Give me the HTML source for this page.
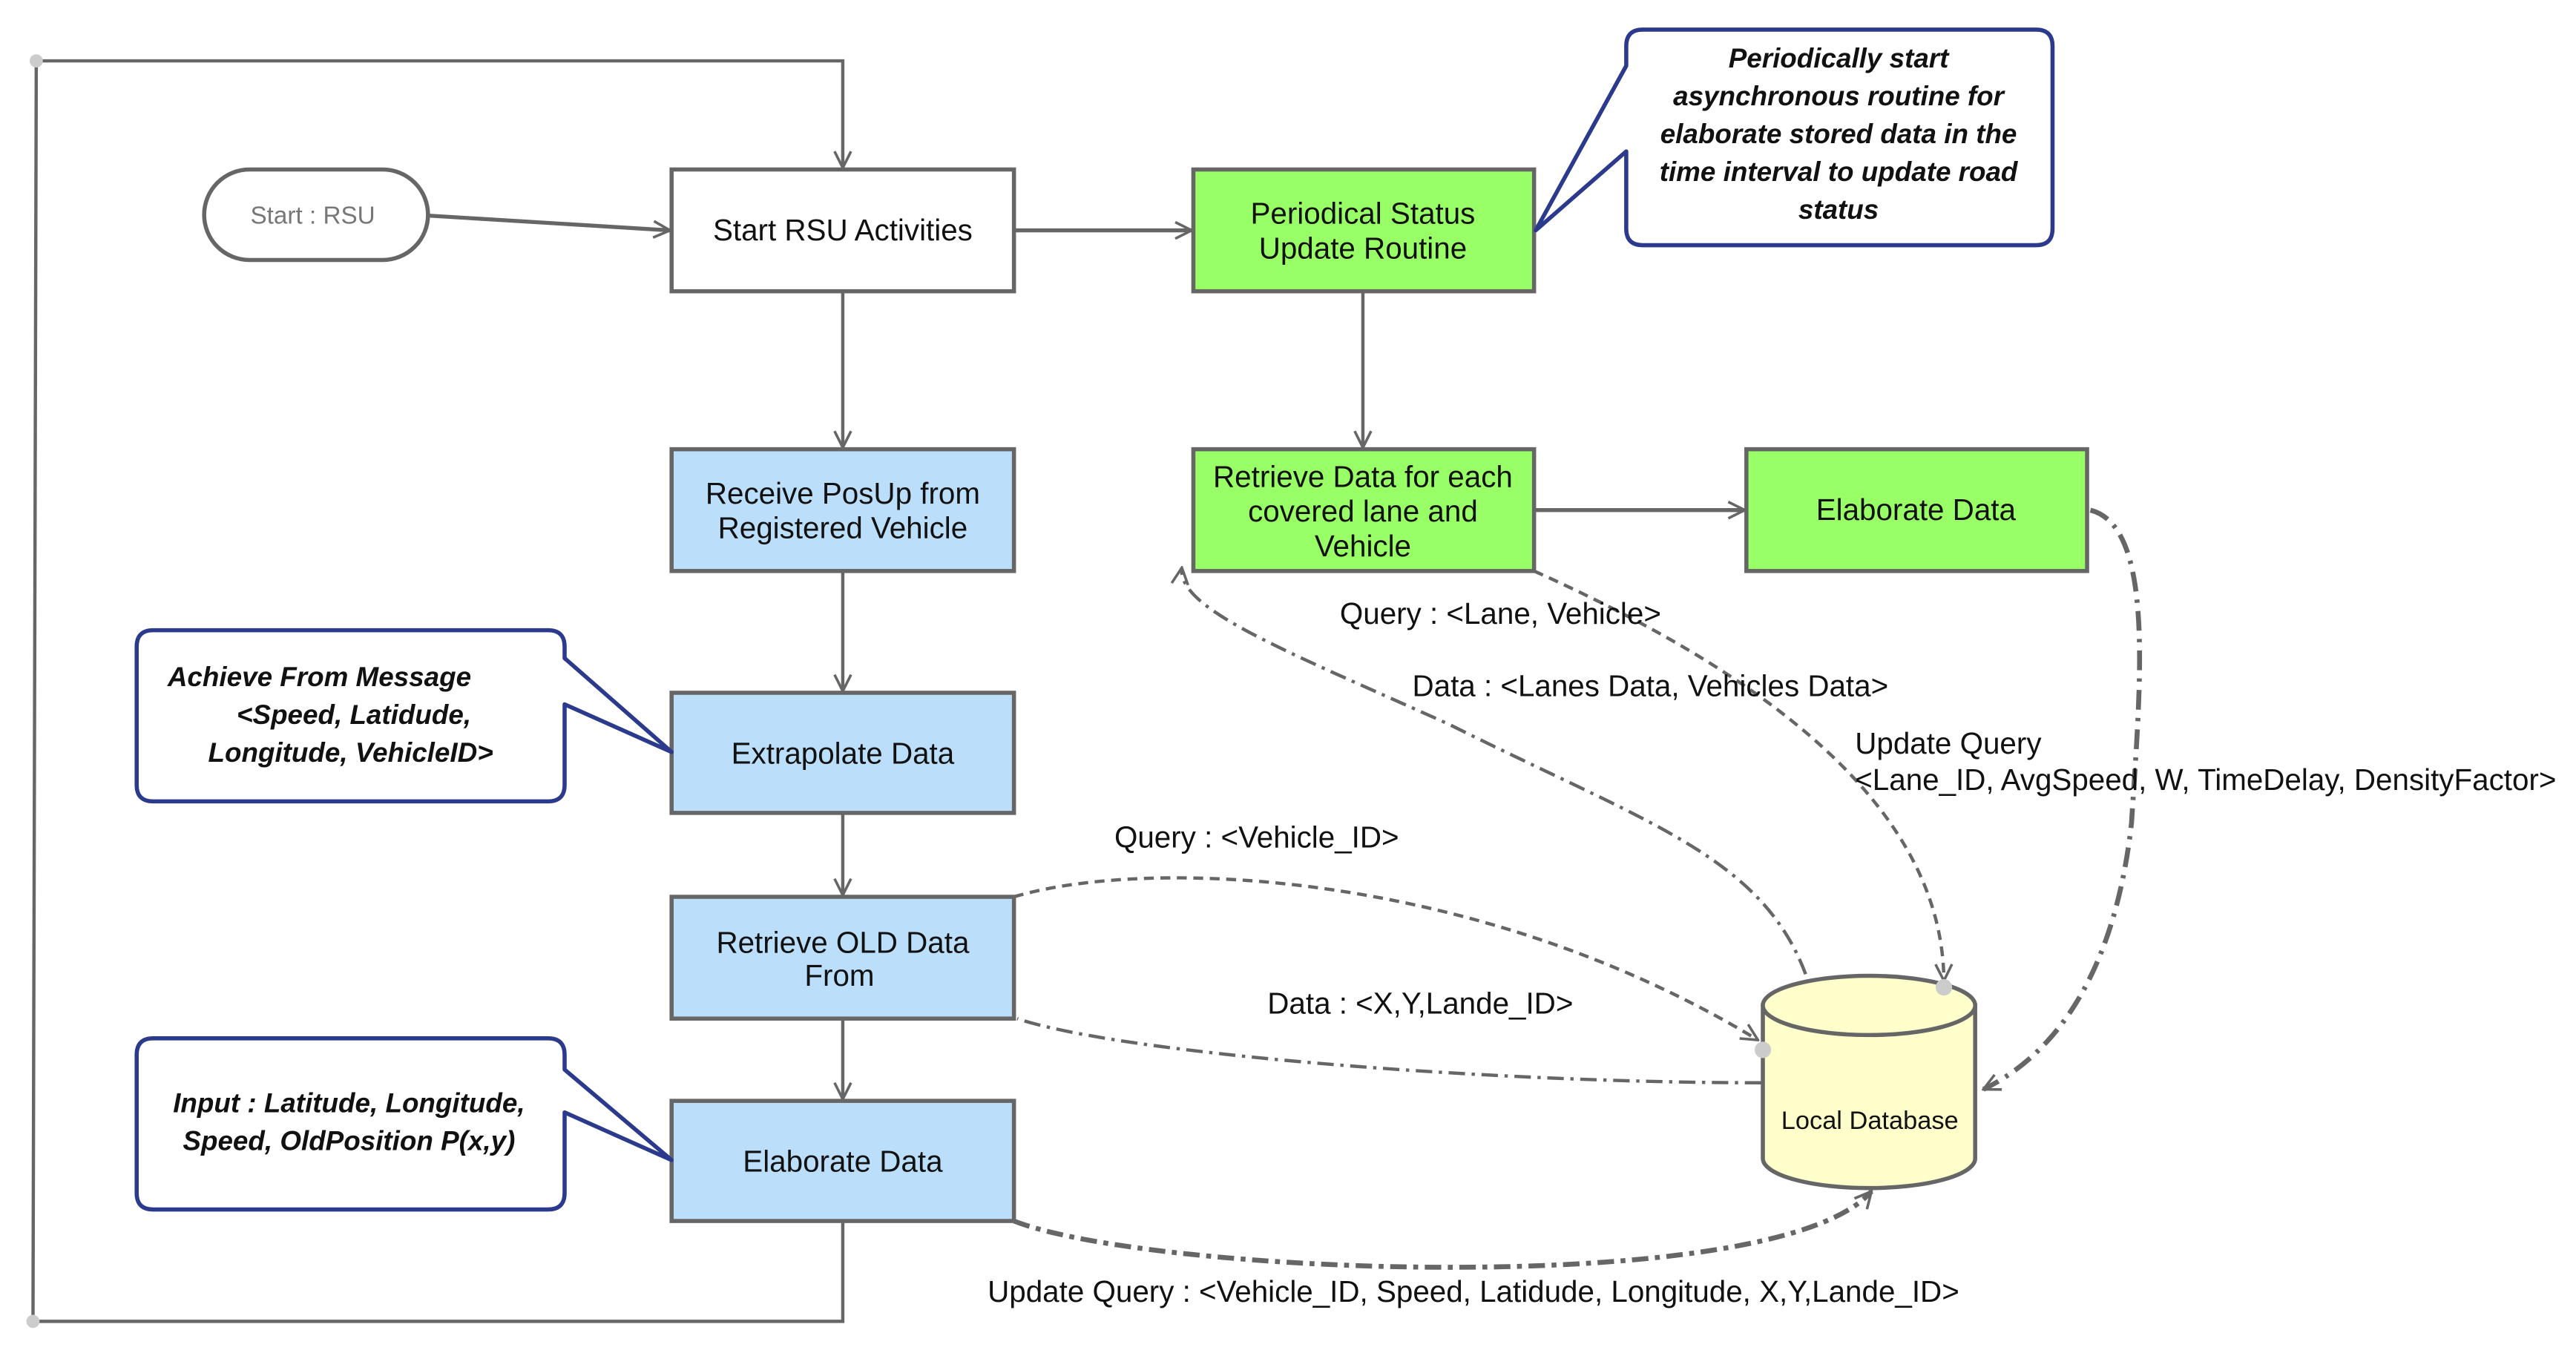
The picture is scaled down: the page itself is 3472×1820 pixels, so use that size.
<!DOCTYPE html>
<html><head><meta charset="utf-8"><style>
html,body{margin:0;padding:0;background:#fff;}
svg{display:block;}
text{font-family:"Liberation Sans",sans-serif;}
</style></head><body>
<svg width="3472" height="1820" viewBox="0 0 1565 820.4" xmlns="http://www.w3.org/2000/svg">
<defs>
<marker id="ar" viewBox="0 0 12 12" refX="11" refY="6" markerWidth="12" markerHeight="12" markerUnits="userSpaceOnUse" orient="auto">
<path d="M1,1 L11,6 L1,11" fill="none" stroke="#666" stroke-width="1.6"/>
</marker>
</defs>
<rect width="1565" height="820.4" fill="#fff"/>
<g fill="none" stroke="#666" stroke-width="2">
<polyline points="512,742 512,803 20,803 22,37 512,37 512,102" marker-end="url(#ar)"/>
<circle cx="22" cy="37" r="4" fill="#ccc" stroke="none"/>
<circle cx="20" cy="803" r="4" fill="#ccc" stroke="none"/>
<line x1="260" y1="131" x2="407" y2="140" marker-end="url(#ar)" stroke-width="2.4"/>
<line x1="616" y1="140" x2="724" y2="140" marker-end="url(#ar)" stroke-width="2.4"/>
<line x1="512" y1="177" x2="512" y2="272" marker-end="url(#ar)"/>
<line x1="828" y1="177" x2="828" y2="272" marker-end="url(#ar)"/>
<line x1="512" y1="347" x2="512" y2="420" marker-end="url(#ar)"/>
<line x1="512" y1="494" x2="512" y2="544" marker-end="url(#ar)"/>
<line x1="512" y1="619" x2="512" y2="668" marker-end="url(#ar)"/>
<line x1="932" y1="310" x2="1060" y2="310" marker-end="url(#ar)" stroke-width="2.4"/>
<path d="M1097,592 C1070,520 1000,500 880,440 C780,395 715,370 718,345" stroke-dasharray="10,4,2,4" marker-end="url(#ar)"/>
<path d="M932,347 C1050,400 1180,480 1181,596" stroke-dasharray="6,4" marker-end="url(#ar)"/>
<path d="M1270,310 C1310,320 1300,420 1295,500 C1285,590 1250,640 1205,662" stroke-dasharray="12,5,2,5" stroke-width="3" marker-end="url(#ar)"/>
<path d="M616,545 C700,520 900,530 1068,632" stroke-dasharray="6,4" marker-end="url(#ar)"/>
<path d="M1070,658 C900,658 680,640 618,619" stroke-dasharray="10,4,2,4"/>
<path d="M616,742 C700,775 1080,790 1137,724" stroke-dasharray="10,4,3,4" stroke-width="3" marker-end="url(#ar)"/>
</g>
<g stroke="#666" stroke-width="2.5">
<rect x="124" y="103" width="136" height="55" rx="27.5" fill="#fff"/>
<rect x="408" y="103" width="208" height="74" fill="#fff"/>
<rect x="725" y="103" width="207" height="74" fill="#99ff66"/>
<rect x="408" y="273" width="208" height="74" fill="#bbdefb"/>
<rect x="725" y="273" width="207" height="74" fill="#99ff66"/>
<rect x="1061" y="273" width="207" height="74" fill="#99ff66"/>
<rect x="408" y="421" width="208" height="73" fill="#bbdefb"/>
<rect x="408" y="545" width="208" height="74" fill="#bbdefb"/>
<rect x="408" y="669" width="208" height="73" fill="#bbdefb"/>
<path d="M1071,611 L1071,704 A64.5,18 0 0 0 1200,704 L1200,611 Z" fill="#ffffcc"/>
<ellipse cx="1135.5" cy="611" rx="64.5" ry="18" fill="#ffffcc"/>
</g>
<circle cx="1181" cy="600" r="5" fill="#ccc"/>
<circle cx="1071" cy="638" r="5" fill="#ccc"/>
<g fill="#fff" stroke="#2b3a8c" stroke-width="2.5" stroke-linejoin="round">
<path d="M998,18 L1237,18 Q1247,18 1247,28 L1247,139 Q1247,149 1237,149 L998,149 Q988,149 988,139 L988,92 L933,140 L988,40 L988,28 Q988,18 998,18 Z"/>
<path d="M93,383 L333,383 Q343,383 343,393 L343,400 L408,457 L343,428 L343,477 Q343,487 333,487 L93,487 Q83,487 83,477 L83,393 Q83,383 93,383 Z"/>
<path d="M93,631 L333,631 Q343,631 343,641 L343,650 L408,705 L343,676 L343,725 Q343,735 333,735 L93,735 Q83,735 83,725 L83,641 Q83,631 93,631 Z"/>
</g>
<g font-size="18.2" fill="#111" text-anchor="middle">
<text x="190" y="136" font-size="15" fill="#777">Start : RSU</text>
<text x="512" y="146">Start RSU Activities</text>
<text x="828" y="136">Periodical Status</text>
<text x="828" y="157">Update Routine</text>
<text x="512" y="306">Receive PosUp from</text>
<text x="512" y="327">Registered Vehicle</text>
<text x="828" y="296">Retrieve Data for each</text>
<text x="828" y="317">covered lane and</text>
<text x="828" y="338">Vehicle</text>
<text x="1164" y="316">Elaborate Data</text>
<text x="512" y="464">Extrapolate Data</text>
<text x="512" y="579">Retrieve OLD Data</text>
<text x="510" y="599">From</text>
<text x="512" y="712">Elaborate Data</text>
<text x="1136" y="686" font-size="15.5">Local Database</text>
</g>
<g font-size="16.6" fill="#111" font-style="italic" font-weight="bold" text-anchor="middle">
<text x="1117" y="41">Periodically start</text>
<text x="1117" y="64">asynchronous routine for</text>
<text x="1117" y="87">elaborate stored data in the</text>
<text x="1117" y="110">time interval to update road</text>
<text x="1117" y="133">status</text>
<text x="194" y="417">Achieve From Message</text>
<text x="215" y="440">&lt;Speed, Latidude,</text>
<text x="213" y="463">Longitude, VehicleID&gt;</text>
<text x="212" y="676">Input : Latitude, Longitude,</text>
<text x="212" y="699">Speed, OldPosition P(x,y)</text>
</g>
<g font-size="18.2" fill="#111">
<text x="814" y="379">Query : &lt;Lane, Vehicle&gt;</text>
<text x="858" y="423">Data : &lt;Lanes Data, Vehicles Data&gt;</text>
<text x="1127" y="458">Update Query</text>
<text x="1127" y="480">&lt;Lane_ID, AvgSpeed, W, TimeDelay, DensityFactor&gt;</text>
<text x="677" y="515">Query : &lt;Vehicle_ID&gt;</text>
<text x="770" y="616">Data : &lt;X,Y,Lande_ID&gt;</text>
<text x="600" y="791">Update Query : &lt;Vehicle_ID, Speed, Latidude, Longitude, X,Y,Lande_ID&gt;</text>
</g>
</svg>
</body></html>
